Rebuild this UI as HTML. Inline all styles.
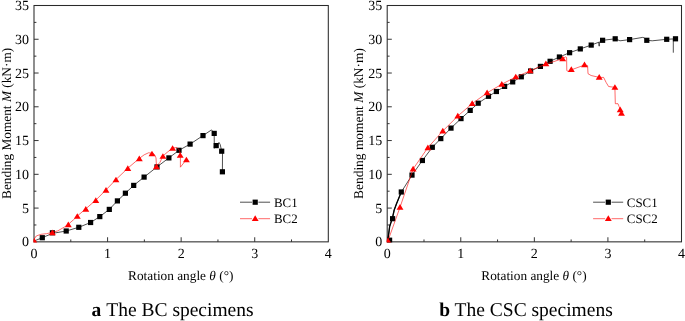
<!DOCTYPE html>
<html><head><meta charset="utf-8"><title>Moment-rotation curves</title>
<style>
html,body{margin:0;padding:0;background:#fff;}
body{width:685px;height:321px;overflow:hidden;font-family:"Liberation Serif",serif;}
svg{display:block;font-family:"Liberation Serif",serif;text-rendering:geometricPrecision;}
</style></head><body>
<svg width="685" height="321" viewBox="0 0 685 321">
<rect width="685" height="321" fill="#fff"/>
<defs><clipPath id="cl"><rect x="33.4" y="4.9" width="295.50" height="237.55"/></clipPath><clipPath id="cr"><rect x="386.59999999999997" y="4.9" width="295.50" height="237.55"/></clipPath></defs>
<g id="txt" style="opacity:0.999">
<rect x="34.0" y="5.5" width="294.30" height="236.35" fill="none" stroke="#2a2a2a" stroke-width="1.05"/>
<text x="29.00" y="246.35" text-anchor="end" font-size="14" fill="#000">0</text>
<line x1="34.0" y1="224.97" x2="36.4" y2="224.97" stroke="#2a2a2a" stroke-width="0.95"/>
<line x1="34.0" y1="208.09" x2="38.6" y2="208.09" stroke="#2a2a2a" stroke-width="0.95"/>
<text x="29.00" y="212.59" text-anchor="end" font-size="14" fill="#000">5</text>
<line x1="34.0" y1="191.20" x2="36.4" y2="191.20" stroke="#2a2a2a" stroke-width="0.95"/>
<line x1="34.0" y1="174.32" x2="38.6" y2="174.32" stroke="#2a2a2a" stroke-width="0.95"/>
<text x="29.00" y="178.82" text-anchor="end" font-size="14" fill="#000">10</text>
<line x1="34.0" y1="157.44" x2="36.4" y2="157.44" stroke="#2a2a2a" stroke-width="0.95"/>
<line x1="34.0" y1="140.56" x2="38.6" y2="140.56" stroke="#2a2a2a" stroke-width="0.95"/>
<text x="29.00" y="145.06" text-anchor="end" font-size="14" fill="#000">15</text>
<line x1="34.0" y1="123.67" x2="36.4" y2="123.67" stroke="#2a2a2a" stroke-width="0.95"/>
<line x1="34.0" y1="106.79" x2="38.6" y2="106.79" stroke="#2a2a2a" stroke-width="0.95"/>
<text x="29.00" y="111.29" text-anchor="end" font-size="14" fill="#000">20</text>
<line x1="34.0" y1="89.91" x2="36.4" y2="89.91" stroke="#2a2a2a" stroke-width="0.95"/>
<line x1="34.0" y1="73.03" x2="38.6" y2="73.03" stroke="#2a2a2a" stroke-width="0.95"/>
<text x="29.00" y="77.53" text-anchor="end" font-size="14" fill="#000">25</text>
<line x1="34.0" y1="56.15" x2="36.4" y2="56.15" stroke="#2a2a2a" stroke-width="0.95"/>
<line x1="34.0" y1="39.26" x2="38.6" y2="39.26" stroke="#2a2a2a" stroke-width="0.95"/>
<text x="29.00" y="43.76" text-anchor="end" font-size="14" fill="#000">30</text>
<line x1="34.0" y1="22.38" x2="36.4" y2="22.38" stroke="#2a2a2a" stroke-width="0.95"/>
<text x="29.00" y="10.00" text-anchor="end" font-size="14" fill="#000">35</text>
<text x="34.00" y="257.65" text-anchor="middle" font-size="14" fill="#000">0</text>
<line x1="70.79" y1="241.85" x2="70.79" y2="239.45" stroke="#2a2a2a" stroke-width="0.95"/>
<line x1="107.58" y1="241.85" x2="107.58" y2="237.25" stroke="#2a2a2a" stroke-width="0.95"/>
<text x="107.58" y="257.65" text-anchor="middle" font-size="14" fill="#000">1</text>
<line x1="144.36" y1="241.85" x2="144.36" y2="239.45" stroke="#2a2a2a" stroke-width="0.95"/>
<line x1="181.15" y1="241.85" x2="181.15" y2="237.25" stroke="#2a2a2a" stroke-width="0.95"/>
<text x="181.15" y="257.65" text-anchor="middle" font-size="14" fill="#000">2</text>
<line x1="217.94" y1="241.85" x2="217.94" y2="239.45" stroke="#2a2a2a" stroke-width="0.95"/>
<line x1="254.73" y1="241.85" x2="254.73" y2="237.25" stroke="#2a2a2a" stroke-width="0.95"/>
<text x="254.73" y="257.65" text-anchor="middle" font-size="14" fill="#000">3</text>
<line x1="291.51" y1="241.85" x2="291.51" y2="239.45" stroke="#2a2a2a" stroke-width="0.95"/>
<text x="328.30" y="257.65" text-anchor="middle" font-size="14" fill="#000">4</text>
<rect x="387.2" y="5.5" width="294.30" height="236.35" fill="none" stroke="#2a2a2a" stroke-width="1.05"/>
<text x="382.20" y="246.35" text-anchor="end" font-size="14" fill="#000">0</text>
<line x1="387.2" y1="224.97" x2="389.59999999999997" y2="224.97" stroke="#2a2a2a" stroke-width="0.95"/>
<line x1="387.2" y1="208.09" x2="391.8" y2="208.09" stroke="#2a2a2a" stroke-width="0.95"/>
<text x="382.20" y="212.59" text-anchor="end" font-size="14" fill="#000">5</text>
<line x1="387.2" y1="191.20" x2="389.59999999999997" y2="191.20" stroke="#2a2a2a" stroke-width="0.95"/>
<line x1="387.2" y1="174.32" x2="391.8" y2="174.32" stroke="#2a2a2a" stroke-width="0.95"/>
<text x="382.20" y="178.82" text-anchor="end" font-size="14" fill="#000">10</text>
<line x1="387.2" y1="157.44" x2="389.59999999999997" y2="157.44" stroke="#2a2a2a" stroke-width="0.95"/>
<line x1="387.2" y1="140.56" x2="391.8" y2="140.56" stroke="#2a2a2a" stroke-width="0.95"/>
<text x="382.20" y="145.06" text-anchor="end" font-size="14" fill="#000">15</text>
<line x1="387.2" y1="123.67" x2="389.59999999999997" y2="123.67" stroke="#2a2a2a" stroke-width="0.95"/>
<line x1="387.2" y1="106.79" x2="391.8" y2="106.79" stroke="#2a2a2a" stroke-width="0.95"/>
<text x="382.20" y="111.29" text-anchor="end" font-size="14" fill="#000">20</text>
<line x1="387.2" y1="89.91" x2="389.59999999999997" y2="89.91" stroke="#2a2a2a" stroke-width="0.95"/>
<line x1="387.2" y1="73.03" x2="391.8" y2="73.03" stroke="#2a2a2a" stroke-width="0.95"/>
<text x="382.20" y="77.53" text-anchor="end" font-size="14" fill="#000">25</text>
<line x1="387.2" y1="56.15" x2="389.59999999999997" y2="56.15" stroke="#2a2a2a" stroke-width="0.95"/>
<line x1="387.2" y1="39.26" x2="391.8" y2="39.26" stroke="#2a2a2a" stroke-width="0.95"/>
<text x="382.20" y="43.76" text-anchor="end" font-size="14" fill="#000">30</text>
<line x1="387.2" y1="22.38" x2="389.59999999999997" y2="22.38" stroke="#2a2a2a" stroke-width="0.95"/>
<text x="382.20" y="10.00" text-anchor="end" font-size="14" fill="#000">35</text>
<text x="387.20" y="257.65" text-anchor="middle" font-size="14" fill="#000">0</text>
<line x1="423.99" y1="241.85" x2="423.99" y2="239.45" stroke="#2a2a2a" stroke-width="0.95"/>
<line x1="460.77" y1="241.85" x2="460.77" y2="237.25" stroke="#2a2a2a" stroke-width="0.95"/>
<text x="460.77" y="257.65" text-anchor="middle" font-size="14" fill="#000">1</text>
<line x1="497.56" y1="241.85" x2="497.56" y2="239.45" stroke="#2a2a2a" stroke-width="0.95"/>
<line x1="534.35" y1="241.85" x2="534.35" y2="237.25" stroke="#2a2a2a" stroke-width="0.95"/>
<text x="534.35" y="257.65" text-anchor="middle" font-size="14" fill="#000">2</text>
<line x1="571.14" y1="241.85" x2="571.14" y2="239.45" stroke="#2a2a2a" stroke-width="0.95"/>
<line x1="607.92" y1="241.85" x2="607.92" y2="237.25" stroke="#2a2a2a" stroke-width="0.95"/>
<text x="607.92" y="257.65" text-anchor="middle" font-size="14" fill="#000">3</text>
<line x1="644.71" y1="241.85" x2="644.71" y2="239.45" stroke="#2a2a2a" stroke-width="0.95"/>
<text x="681.50" y="257.65" text-anchor="middle" font-size="14" fill="#000">4</text>
<g clip-path="url(#cl)">
<polyline points="34.60,240.80 42.30,237.70 52.40,233.40 66.20,231.00 78.80,227.30 90.60,222.50 99.80,216.60 109.30,209.40 117.40,200.90 125.40,193.20 133.70,185.40 144.10,177.10 157.00,166.90 168.90,157.90 179.00,150.30 190.10,144.10 203.00,135.60 211.50,129.90 214.20,133.40 214.30,148.30 214.40,146.00 216.20,145.60 219.00,142.40 220.20,144.50 221.70,151.20 222.50,152.00 222.40,171.80" fill="none" stroke="#000" stroke-width="0.7" stroke-linejoin="round"/>
<rect x="39.70" y="235.10" width="5.2" height="5.2" fill="#000"/>
<rect x="49.80" y="230.20" width="5.2" height="5.2" fill="#000"/>
<rect x="63.60" y="228.40" width="5.2" height="5.2" fill="#000"/>
<rect x="76.20" y="224.70" width="5.2" height="5.2" fill="#000"/>
<rect x="88.00" y="219.90" width="5.2" height="5.2" fill="#000"/>
<rect x="97.20" y="214.00" width="5.2" height="5.2" fill="#000"/>
<rect x="106.70" y="206.80" width="5.2" height="5.2" fill="#000"/>
<rect x="114.80" y="198.30" width="5.2" height="5.2" fill="#000"/>
<rect x="122.80" y="190.60" width="5.2" height="5.2" fill="#000"/>
<rect x="131.10" y="182.80" width="5.2" height="5.2" fill="#000"/>
<rect x="141.50" y="174.50" width="5.2" height="5.2" fill="#000"/>
<rect x="154.40" y="164.30" width="5.2" height="5.2" fill="#000"/>
<rect x="166.30" y="155.30" width="5.2" height="5.2" fill="#000"/>
<rect x="176.40" y="147.70" width="5.2" height="5.2" fill="#000"/>
<rect x="187.50" y="141.50" width="5.2" height="5.2" fill="#000"/>
<rect x="200.40" y="133.00" width="5.2" height="5.2" fill="#000"/>
<rect x="211.60" y="130.80" width="5.2" height="5.2" fill="#000"/>
<rect x="213.60" y="143.00" width="5.2" height="5.2" fill="#000"/>
<rect x="219.10" y="148.60" width="5.2" height="5.2" fill="#000"/>
<rect x="219.80" y="169.20" width="5.2" height="5.2" fill="#000"/>
<polyline points="34.50,241.00 34.40,238.80 36.20,236.00 40.90,234.30 46.50,233.70 52.40,232.30 57.70,230.90 64.30,227.10 68.30,224.30 73.60,219.70 77.30,216.00 85.80,208.80 95.80,200.10 106.00,189.90 116.00,179.50 127.80,168.20 139.30,158.40 144.20,154.80 148.50,152.80 152.00,153.20 154.50,154.60 156.00,157.90 156.30,163.40 156.40,166.30 160.00,162.30 162.90,156.00 167.10,152.40 172.60,148.00 176.90,147.50 179.60,150.30 180.40,155.20 180.40,167.20 186.40,159.50" fill="none" stroke="#ff0000" stroke-width="0.6" stroke-linejoin="round"/>
<polygon points="34.30,237.95 30.85,243.65 37.75,243.65" fill="#ff0000"/>
<polygon points="52.40,229.45 48.95,235.15 55.85,235.15" fill="#ff0000"/>
<polygon points="68.30,221.45 64.85,227.15 71.75,227.15" fill="#ff0000"/>
<polygon points="77.30,213.15 73.85,218.85 80.75,218.85" fill="#ff0000"/>
<polygon points="85.80,205.95 82.35,211.65 89.25,211.65" fill="#ff0000"/>
<polygon points="95.80,197.25 92.35,202.95 99.25,202.95" fill="#ff0000"/>
<polygon points="106.00,187.05 102.55,192.75 109.45,192.75" fill="#ff0000"/>
<polygon points="116.00,176.65 112.55,182.35 119.45,182.35" fill="#ff0000"/>
<polygon points="127.80,165.35 124.35,171.05 131.25,171.05" fill="#ff0000"/>
<polygon points="139.30,155.55 135.85,161.25 142.75,161.25" fill="#ff0000"/>
<polygon points="152.00,150.65 148.55,156.35 155.45,156.35" fill="#ff0000"/>
<polygon points="156.40,163.45 152.95,169.15 159.85,169.15" fill="#ff0000"/>
<polygon points="162.90,153.15 159.45,158.85 166.35,158.85" fill="#ff0000"/>
<polygon points="172.60,145.15 169.15,150.85 176.05,150.85" fill="#ff0000"/>
<polygon points="180.20,152.15 176.75,157.85 183.65,157.85" fill="#ff0000"/>
<polygon points="186.40,156.65 182.95,162.35 189.85,162.35" fill="#ff0000"/>
</g>
<g clip-path="url(#cr)">
<polyline points="387.80,240.60 389.70,226.20 392.30,218.60 394.20,210.00 396.60,203.60 401.30,192.00 412.00,175.10 422.40,160.50 432.30,147.30 440.80,138.60 451.00,128.10 461.00,118.60 470.20,110.40 478.20,103.20 488.50,96.30 496.40,91.50 504.60,86.40 512.70,81.90 521.30,76.80 530.60,71.00 540.40,66.40 550.10,61.30 559.40,57.00 569.60,52.70 580.30,48.90 591.20,45.10 598.90,42.20 599.20,46.20 599.20,42.20 602.60,40.30 615.20,38.80 620.00,40.80 629.60,39.60 642.70,37.40 644.10,37.80 646.80,40.30 652.20,40.80 666.70,39.30 675.50,38.80" fill="none" stroke="#000" stroke-width="0.7" stroke-linejoin="round"/>
<polyline points="673.30,39.00 673.30,52.70" fill="none" stroke="#000" stroke-width="0.7" stroke-linejoin="round"/>
<polyline points="387.80,240.60 389.70,226.20 392.30,218.60 394.20,210.00 396.60,203.60 401.30,192.00" fill="none" stroke="#000" stroke-width="1.35" stroke-linejoin="round"/>
<rect x="387.00" y="237.60" width="5.2" height="5.2" fill="#000"/>
<rect x="390.00" y="216.10" width="5.2" height="5.2" fill="#000"/>
<rect x="398.70" y="189.40" width="5.2" height="5.2" fill="#000"/>
<rect x="409.40" y="172.50" width="5.2" height="5.2" fill="#000"/>
<rect x="419.80" y="157.90" width="5.2" height="5.2" fill="#000"/>
<rect x="429.70" y="144.70" width="5.2" height="5.2" fill="#000"/>
<rect x="438.20" y="136.00" width="5.2" height="5.2" fill="#000"/>
<rect x="448.40" y="125.50" width="5.2" height="5.2" fill="#000"/>
<rect x="458.40" y="116.00" width="5.2" height="5.2" fill="#000"/>
<rect x="467.60" y="107.80" width="5.2" height="5.2" fill="#000"/>
<rect x="475.60" y="100.60" width="5.2" height="5.2" fill="#000"/>
<rect x="485.90" y="93.70" width="5.2" height="5.2" fill="#000"/>
<rect x="493.80" y="88.90" width="5.2" height="5.2" fill="#000"/>
<rect x="502.00" y="83.80" width="5.2" height="5.2" fill="#000"/>
<rect x="510.10" y="79.30" width="5.2" height="5.2" fill="#000"/>
<rect x="518.70" y="74.20" width="5.2" height="5.2" fill="#000"/>
<rect x="528.00" y="68.40" width="5.2" height="5.2" fill="#000"/>
<rect x="537.80" y="63.80" width="5.2" height="5.2" fill="#000"/>
<rect x="547.50" y="58.70" width="5.2" height="5.2" fill="#000"/>
<rect x="556.80" y="54.40" width="5.2" height="5.2" fill="#000"/>
<rect x="567.00" y="50.10" width="5.2" height="5.2" fill="#000"/>
<rect x="577.70" y="46.30" width="5.2" height="5.2" fill="#000"/>
<rect x="588.60" y="42.50" width="5.2" height="5.2" fill="#000"/>
<rect x="600.00" y="37.70" width="5.2" height="5.2" fill="#000"/>
<rect x="612.60" y="36.20" width="5.2" height="5.2" fill="#000"/>
<rect x="627.00" y="37.00" width="5.2" height="5.2" fill="#000"/>
<rect x="644.20" y="37.70" width="5.2" height="5.2" fill="#000"/>
<rect x="664.10" y="36.70" width="5.2" height="5.2" fill="#000"/>
<rect x="672.90" y="36.20" width="5.2" height="5.2" fill="#000"/>
<polyline points="388.10,240.40 400.00,207.30 413.10,169.00 427.90,147.60 442.80,131.00 457.80,116.00 472.20,103.60 487.10,92.80 501.80,84.20 515.80,77.00 530.10,70.80 545.90,64.00 555.00,61.20 562.90,58.50 565.60,56.90 566.60,57.50 566.80,70.60 568.10,71.40 571.20,69.90 584.50,65.00 587.60,65.60 588.00,73.70 591.10,75.50 599.20,77.40 603.60,77.40 606.10,82.40 608.60,86.50 614.90,87.40 615.30,103.70 618.00,103.70 619.20,106.80 620.20,109.30 621.50,113.00" fill="none" stroke="#ff0000" stroke-width="0.6" stroke-linejoin="round"/>
<polygon points="387.90,237.55 384.45,243.25 391.35,243.25" fill="#ff0000"/>
<polygon points="400.00,203.95 396.55,209.65 403.45,209.65" fill="#ff0000"/>
<polygon points="413.10,165.75 409.65,171.45 416.55,171.45" fill="#ff0000"/>
<polygon points="427.90,144.45 424.45,150.15 431.35,150.15" fill="#ff0000"/>
<polygon points="442.80,127.75 439.35,133.45 446.25,133.45" fill="#ff0000"/>
<polygon points="457.80,112.85 454.35,118.55 461.25,118.55" fill="#ff0000"/>
<polygon points="472.20,100.35 468.75,106.05 475.65,106.05" fill="#ff0000"/>
<polygon points="487.10,89.55 483.65,95.25 490.55,95.25" fill="#ff0000"/>
<polygon points="501.80,80.95 498.35,86.65 505.25,86.65" fill="#ff0000"/>
<polygon points="515.80,73.65 512.35,79.35 519.25,79.35" fill="#ff0000"/>
<polygon points="530.10,67.45 526.65,73.15 533.55,73.15" fill="#ff0000"/>
<polygon points="545.90,60.45 542.45,66.15 549.35,66.15" fill="#ff0000"/>
<polygon points="562.70,55.65 559.25,61.35 566.15,61.35" fill="#ff0000"/>
<polygon points="571.30,66.35 567.85,72.05 574.75,72.05" fill="#ff0000"/>
<polygon points="584.50,61.45 581.05,67.15 587.95,67.15" fill="#ff0000"/>
<polygon points="599.20,73.95 595.75,79.65 602.65,79.65" fill="#ff0000"/>
<polygon points="614.90,84.15 611.45,89.85 618.35,89.85" fill="#ff0000"/>
<polygon points="620.20,106.45 616.75,112.15 623.65,112.15" fill="#ff0000"/>
<polygon points="621.50,110.15 618.05,115.85 624.95,115.85" fill="#ff0000"/>
</g>
<line x1="240.00" y1="202.2" x2="252.00" y2="202.2" stroke="#000" stroke-width="0.7"/>
<line x1="258.40" y1="202.2" x2="270.10" y2="202.2" stroke="#000" stroke-width="0.7"/>
<rect x="252.60" y="199.60" width="5.2" height="5.2" fill="#000"/>
<text x="274.0" y="206.6" font-size="12.9" fill="#000">BC1</text>
<line x1="240.00" y1="218.7" x2="252.00" y2="218.7" stroke="#ff0000" stroke-width="0.6"/>
<line x1="258.40" y1="218.7" x2="270.10" y2="218.7" stroke="#ff0000" stroke-width="0.6"/>
<polygon points="255.20,215.30 251.75,221.00 258.65,221.00" fill="#ff0000"/>
<text x="274.0" y="223.1" font-size="12.9" fill="#000">BC2</text>
<line x1="593.10" y1="202.2" x2="605.10" y2="202.2" stroke="#000" stroke-width="0.7"/>
<line x1="611.50" y1="202.2" x2="623.20" y2="202.2" stroke="#000" stroke-width="0.7"/>
<rect x="605.70" y="199.60" width="5.2" height="5.2" fill="#000"/>
<text x="626.8" y="206.6" font-size="12.9" fill="#000">CSC1</text>
<line x1="593.10" y1="218.7" x2="605.10" y2="218.7" stroke="#ff0000" stroke-width="0.6"/>
<line x1="611.50" y1="218.7" x2="623.20" y2="218.7" stroke="#ff0000" stroke-width="0.6"/>
<polygon points="608.30,215.30 604.85,221.00 611.75,221.00" fill="#ff0000"/>
<text x="626.8" y="223.1" font-size="12.9" fill="#000">CSC2</text>
<text x="128.1" y="279.8" font-size="13.3" fill="#000">Rotation angle <tspan font-style="italic">θ</tspan> (°)</text>
<text x="481.3" y="279.8" font-size="13.3" fill="#000">Rotation angle <tspan font-style="italic">θ</tspan> (°)</text>
<text transform="translate(10.6,198.9) rotate(-90)" font-size="13.3" fill="#000">Bending Moment <tspan font-style="italic">M</tspan> (kN·m)</text>
<text transform="translate(363.2,198.9) rotate(-90)" font-size="13.42" fill="#000">Bending moment <tspan font-style="italic">M</tspan> (kN·m)</text>
<text x="91.4" y="315.9" font-size="19.5" font-weight="bold" fill="#000">a</text><text x="106.3" y="315.9" font-size="19.5" fill="#000">The BC specimens</text>
<text x="439.2" y="315.9" font-size="19.5" font-weight="bold" fill="#000">b</text><text x="454.6" y="315.9" font-size="19.5" fill="#000">The CSC specimens</text>
</g>
</svg>
</body></html>
